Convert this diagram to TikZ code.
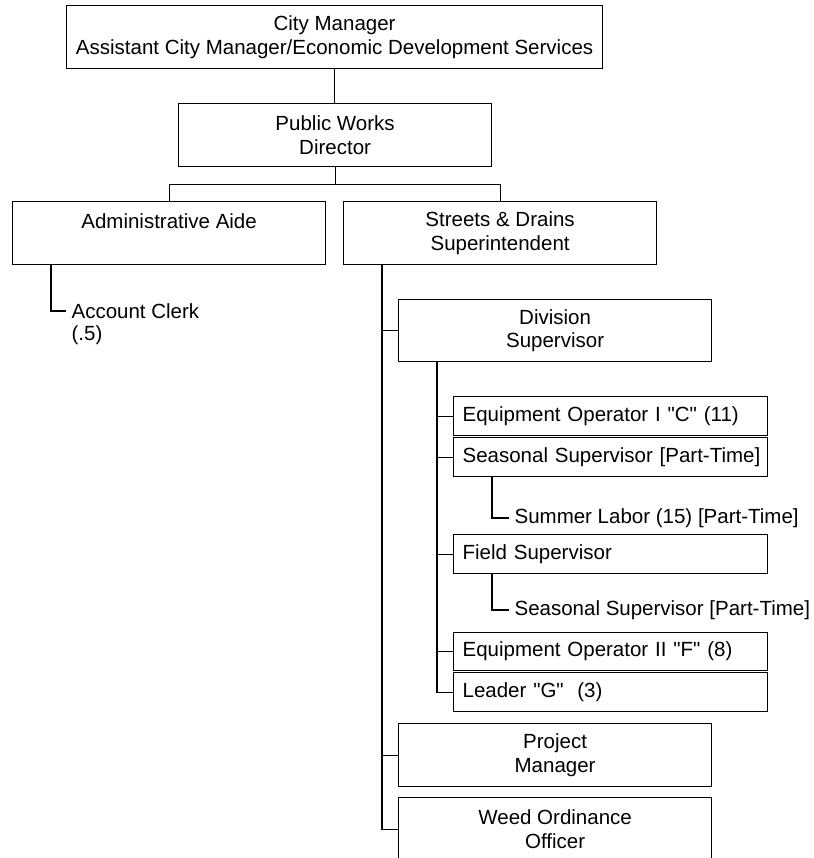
\documentclass[tikz,border=0pt]{standalone}
\usepackage{fontspec}
\setmainfont{Liberation Sans}
\newfontfamily\libsans{Liberation Sans}
\begin{document}
\begin{tikzpicture}[x=1pt,y=-1pt,
  line width=1.2pt,
  every node/.style={font=\libsans\fontsize{20.5}{23.5}\selectfont},
  box/.style={draw, line width=1.2pt, inner sep=0pt, align=center, anchor=north west},
  sbox/.style={draw, line width=1.2pt, inner ysep=0pt, inner xsep=9pt, align=left, anchor=north west},
  lbl/.style={inner ysep=0pt, inner xsep=5pt, anchor=west, align=left},
  conn/.style={draw, line width=1.2pt}]
\useasboundingbox (0,0) rectangle (813,858);
\clip (0,0) rectangle (813,858);
% boxes
\node[box, minimum width=536pt, minimum height=63pt] (cm) at (66,5) {City Manager\\Assistant City Manager/Economic Development Services};
\node[box, minimum width=313pt, minimum height=63pt] (pw) at (178,103) {Public Works\\Director};
\node[box, minimum width=313pt, minimum height=63pt] (aa) at (12,201) {Administrative Aide\\\mbox{}};
\node[box, minimum width=313pt, minimum height=63pt] (sd) at (343,201) {Streets \& Drains\\Superintendent};
\node[lbl] (ac1) at (66,311) {Account Clerk};
\node[lbl] (ac2) at (66,335) {(.5)};
\node[box, minimum width=313pt, minimum height=62pt] (ds) at (398,299) {Division\\Supervisor};
\node[sbox, minimum height=39pt, text width=296pt] (eo1) at (453,396) {\mbox{Equipment Operator I "C" (11)}};
\node[sbox, minimum height=39pt, text width=296pt] (ss1) at (453,437) {\mbox{Seasonal Supervisor [Part-Time]}};
\node[lbl] (sl) at (509,518) {Summer Labor (15) [Part-Time]};
\node[sbox, minimum height=39pt, text width=296pt] (fs) at (453,534) {\mbox{Field Supervisor}};
\node[lbl] (ss2) at (509,610) {Seasonal Supervisor [Part-Time]};
\node[sbox, minimum height=38pt, text width=296pt] (eo2) at (453,632) {\mbox{Equipment Operator II "F" (8)}};
\node[sbox, minimum height=39pt, text width=296pt] (ld) at (453,672) {\mbox{Leader "G"~~(3)}};
\node[box, minimum width=313pt, minimum height=63pt] (pm) at (398,723) {Project\\Manager};
\node[box, minimum width=313pt, minimum height=63pt] (wo) at (398,797) {Weed Ordinance\\Officer};
% connectors
\draw[conn] (cm.south) -- (cm.south |- pw.north);
\draw[conn] (pw.south) -- ++(0,17) coordinate (j1);
\draw[conn] (aa.north) |- (j1) -| (sd.north);
\draw[conn] ([xshift=39pt]aa.south west) |- (ac1.west);
\coordinate (t) at ([xshift=39pt]sd.south west);
\draw[conn] (t) |- (wo.west);
\draw[conn] (ds.west) -- (t |- ds.west);
\draw[conn] (pm.west) -- (t |- pm.west);
\coordinate (d) at ([xshift=39pt]ds.south west);
\draw[conn] (d) |- (ld.west);
\draw[conn] (eo1.west) -- (d |- eo1.west);
\draw[conn] (ss1.west) -- (d |- ss1.west);
\draw[conn] (fs.west) -- (d |- fs.west);
\draw[conn] (eo2.west) -- (d |- eo2.west);
\draw[conn] ([xshift=39pt]ss1.south west) |- (sl.west);
\draw[conn] ([xshift=39pt]fs.south west) |- (ss2.west);
\end{tikzpicture}
\end{document}
